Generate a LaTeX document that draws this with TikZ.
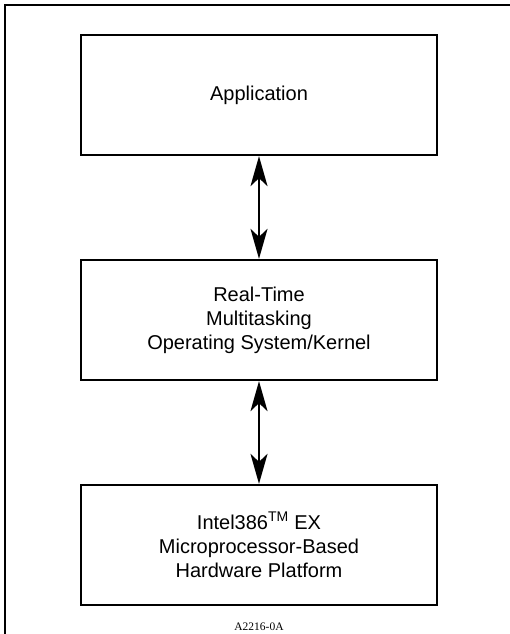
\documentclass[tikz,border=0pt]{standalone}
\usepackage{fontspec}
\setmainfont{Liberation Sans}
\newfontfamily\labelfont{Liberation Serif}
\usetikzlibrary{arrows.meta}
\begin{document}
\begin{tikzpicture}[x=1pt,y=-1pt,
  layer/.style={draw,line width=2.3pt,minimum width=356pt,minimum height=120pt,
    align=center,inner sep=0pt,font=\fontsize{20}{24}\selectfont},
  link/.style={line width=2pt,{Stealth[length=30pt,width=17pt,inset=8pt]}-{Stealth[length=30pt,width=17pt,inset=8pt]}}]
\useasboundingbox (0,0) rectangle (509,634);
\draw[line width=2.3pt] (5,640) -- (5,5) -- (515,5);
\node[layer] (app) at (259,95) {Application};
\node[layer] (os) at (259,320) {Real-Time\\Multitasking\\Operating System/Kernel};
\node[layer] (hw) at (259,545) {Intel386\textsuperscript{TM} EX\\Microprocessor-Based\\Hardware Platform};
\draw[link] (app.south) -- (os.north);
\draw[link] (os.south) -- (hw.north);
\node[font=\labelfont\fontsize{11.5}{12}\selectfont] (lbl) at (259,627) {A2216-0A};
\end{tikzpicture}
\end{document}
